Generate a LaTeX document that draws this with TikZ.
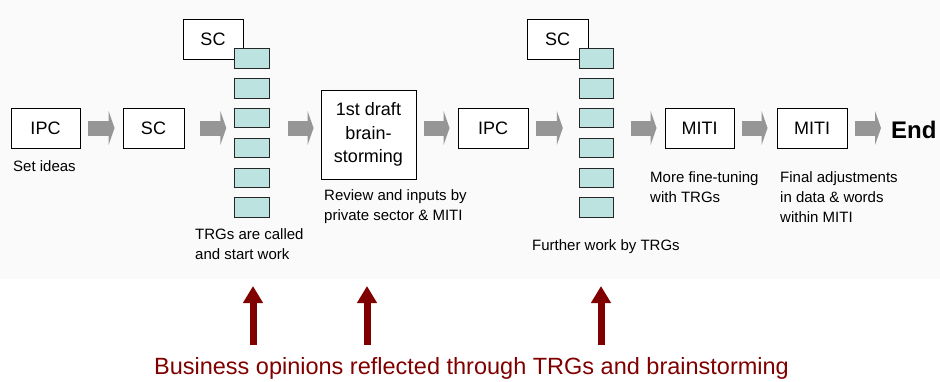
\documentclass[tikz,border=0pt]{standalone}
\usepackage{fontspec}
\setmainfont{Liberation Sans}
\usetikzlibrary{calc,arrows.meta}
\definecolor{bgc}{HTML}{FAFAFA}
\definecolor{tealc}{HTML}{BDE3E1}
\definecolor{agray}{HTML}{969696}
\definecolor{dred}{HTML}{800000}
\begin{document}
\begin{tikzpicture}[x=1pt,y=-1pt,
  box/.style={draw=black,line width=0.9pt,fill=white,inner sep=0pt,font=\fontsize{18}{23.5}\selectfont,align=center},
  trg/.style={draw=black!85,line width=0.9pt,fill=tealc,minimum width=34.5pt,minimum height=19.5pt,inner sep=0pt},
  lbl/.style={anchor=base west,inner sep=0pt,font=\fontsize{15}{20}\selectfont,align=left},
  garrow/.style={agray,line width=15pt,-{Triangle[length=6pt,width=34pt]}},
  rarrow/.style={dred,line width=7pt,-{Triangle[length=17pt,width=19pt]}}]
\useasboundingbox (0,0) rectangle (940,381);
\fill[bgc] (0,0) rectangle (940,279);

% main boxes
\node[box,minimum width=69pt,minimum height=40pt] (ipc1) at (45.5,128) {IPC};
\node[box,minimum width=61pt,minimum height=40pt] (sc1) at (153.5,128) {SC};
\node[box,minimum width=60pt,minimum height=40pt] (sctop1) at (213,39) {SC};
\node[box,minimum width=95pt,minimum height=89pt] (draft) at (368.5,134.5) {1st draft\\brain-\\storming};
\node[box,minimum width=70pt,minimum height=40pt] (ipc2) at (493,128) {IPC};
\node[box,minimum width=61pt,minimum height=40pt] (sctop2) at (557.5,39) {SC};
\node[box,minimum width=69pt,minimum height=40pt] (miti1) at (699.5,128) {MITI};
\node[box,minimum width=70pt,minimum height=40pt] (miti2) at (812,128) {MITI};
\node[anchor=base west,inner sep=0pt,font=\bfseries\fontsize{24}{24}\selectfont] (end) at (891,138) {End};

% TRG columns
\foreach \i in {1,...,6} {
  \node[trg] (ta\i) at (252,{58.5+29.8*(\i-1)}) {};
  \node[trg] (tb\i) at (596.5,{58.5+29.8*(\i-1)}) {};
}

% gray flow arrows
\draw[garrow] ($(ipc1.east)+(8,0)$) -- ($(sc1.west)+(-8,0)$);
\draw[garrow] ($(sc1.east)+(16,0)$) -- ($(ta3.west |- sc1.east)+(-8,0)$);
\draw[garrow] ($(ta3.east |- sc1.east)+(18,0)$) -- ($(draft.west |- sc1.east)+(-7,0)$);
\draw[garrow] ($(draft.east |- ipc2.west)+(8,0)$) -- ($(ipc2.west)+(-8,0)$);
\draw[garrow] ($(ipc2.east)+(8,0)$) -- ($(tb3.west |- ipc2.east)+(-16,0)$);
\draw[garrow] ($(tb3.east |- miti1.west)+(17,0)$) -- ($(miti1.west)+(-8,0)$);
\draw[garrow] ($(miti1.east)+(8,0)$) -- ($(miti2.west)+(-9,0)$);
\draw[garrow] ($(miti2.east)+(8,0)$) -- ($(end.west |- miti2.east)+(-10,0)$);

% labels (base = baseline of the last line)
\node[lbl] (l1) at (13,171) {Set ideas};
\node[lbl] (l2) at (195,259) {TRGs are called\\and start work};
\node[lbl] (l3) at (324,220) {Review and inputs by\\private sector \& MITI};
\node[lbl] (l4) at (532,250) {Further work by TRGs};
\node[lbl] (l5) at (650,202) {More fine-tuning\\with TRGs};
\node[lbl] (l6) at (780,222) {Final adjustments\\in data \& words\\within MITI};

% bottom
\node[anchor=base,inner sep=0pt,text=dred,font=\fontsize{23.5}{28}\selectfont] (biz) at (471.5,374) {Business opinions reflected through TRGs and brainstorming};
\coordinate (r1) at (253,286);
\coordinate (r2) at (367,286);
\coordinate (r3) at (601,286);
\draw[rarrow] (r1 |- 0,345) -- (r1);
\draw[rarrow] (r2 |- 0,345) -- (r2);
\draw[rarrow] (r3 |- 0,345) -- (r3);
\end{tikzpicture}
\end{document}
